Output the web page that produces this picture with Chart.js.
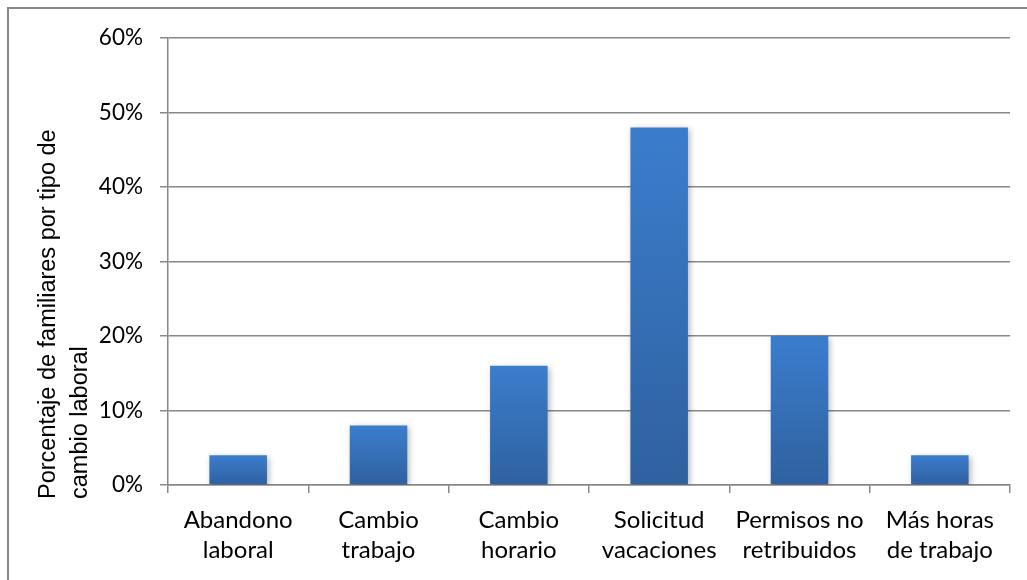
<!DOCTYPE html>
<html>
<head>
<meta charset="utf-8">
<script src="https://cdn.jsdelivr.net/npm/chart.js@4"></script>
<style>
  html, body { margin: 0; padding: 0; background: #ffffff; }
  #wrap { width: 1027px; height: 580px; }
</style>
</head>
<body>
<div id="wrap"><canvas id="c" width="1027" height="580"></canvas></div>
<script>
const categories = [
  ['Abandono', 'laboral'],
  ['Cambio', 'trabajo'],
  ['Cambio', 'horario'],
  ['Solicitud', 'vacaciones'],
  ['Permisos no', 'retribuidos'],
  ['Más horas', 'de trabajo']
];
const values = [4, 8, 16, 48, 20, 4];
const yMin = 0;
const yMax = 60;
const yStep = 10;
const yTitleLines = ['Porcentaje de familiares por tipo de', 'cambio laboral'];

const TICK_FONT = "Lato, 'Open Sans', sans-serif";
const TITLE_FONT = "'Liberation Sans', Arimo, Arial, sans-serif";
const GRID = '#888888';

const frame = {
  id: 'frame',
  beforeDraw(chart) {
    const ctx = chart.ctx;
    ctx.save();
    ctx.fillStyle = '#ffffff';
    ctx.fillRect(0, 0, chart.width, chart.height);
    ctx.restore();
  },
  afterDraw(chart) {
    const ctx = chart.ctx;
    ctx.save();
    ctx.strokeStyle = '#878787';
    ctx.lineWidth = 2;
    ctx.strokeRect(8, 8, 1040, 620);
    ctx.font = '23.5px ' + TITLE_FONT;
    ctx.fillStyle = '#000000';
    ctx.textAlign = 'left';
    ctx.textBaseline = 'alphabetic';
    const baseX = [55, 87];
    yTitleLines.forEach((line, i) => {
      ctx.save();
      ctx.translate(baseX[i], 499);
      ctx.rotate(-Math.PI / 2);
      ctx.fillText(line, 0, 0);
      ctx.restore();
    });
    ctx.restore();
  }
};

const shadow = {
  id: 'barShadow',
  beforeDatasetsDraw(chart) {
    const ctx = chart.ctx;
    ctx.save();
    ctx.shadowColor = 'rgba(0,0,0,0.28)';
    ctx.shadowBlur = 6;
    ctx.shadowOffsetX = 2;
    ctx.shadowOffsetY = 2;
  },
  afterDatasetsDraw(chart) {
    chart.ctx.restore();
  }
};

function barFill(context) {
  const chart = context.chart;
  const ys = chart.scales && chart.scales.y;
  if (!ys || context.raw === undefined) return '#3771bd';
  const top = ys.getPixelForValue(context.raw);
  const bot = ys.getPixelForValue(0);
  if (!isFinite(top) || !isFinite(bot) || top === bot) return '#3771bd';
  const g = chart.ctx.createLinearGradient(0, top, 0, bot);
  g.addColorStop(0, '#3b7dcd');
  g.addColorStop(1, '#2f619f');
  return g;
}

new Chart(document.getElementById('c'), {
  type: 'bar',
  data: {
    labels: categories,
    datasets: [{
      data: values,
      backgroundColor: barFill,
      borderWidth: 0,
      barPercentage: 0.41,
      categoryPercentage: 1
    }]
  },
  options: {
    responsive: false,
    animation: false,
    devicePixelRatio: 1,
    layout: { padding: { left: 0, top: 38, right: 17, bottom: 0 } },
    plugins: {
      legend: { display: false },
      tooltip: { enabled: false },
      title: { display: false }
    },
    scales: {
      x: {
        offset: true,
        grid: {
          offset: true,
          drawOnChartArea: false,
          drawTicks: true,
          tickLength: 8,
          color: GRID,
          lineWidth: 1.5
        },
        border: { display: true, color: GRID, width: 1.5 },
        ticks: {
          color: '#000000',
          font: { family: TICK_FONT, size: 24, lineHeight: 1.25 },
          padding: 12,
          maxRotation: 0,
          autoSkip: false
        },
        afterFit(scale) {
          scale.height = 95;
          scale.paddingLeft = 0;
          scale.paddingRight = 0;
        }
      },
      y: {
        min: yMin,
        max: yMax,
        grid: {
          color: GRID,
          lineWidth: 1.5,
          tickLength: 8,
          drawTicks: true
        },
        border: { display: true, color: GRID, width: 1.5 },
        ticks: {
          stepSize: yStep,
          color: '#000000',
          font: { family: TICK_FONT, size: 22.5 },
          padding: 17,
          callback: (v) => v + '%'
        },
        afterFit(scale) {
          scale.width = 168;
          scale.paddingTop = 0;
          scale.paddingBottom = 0;
        }
      }
    }
  },
  plugins: [frame, shadow]
});
</script>
</body>
</html>
